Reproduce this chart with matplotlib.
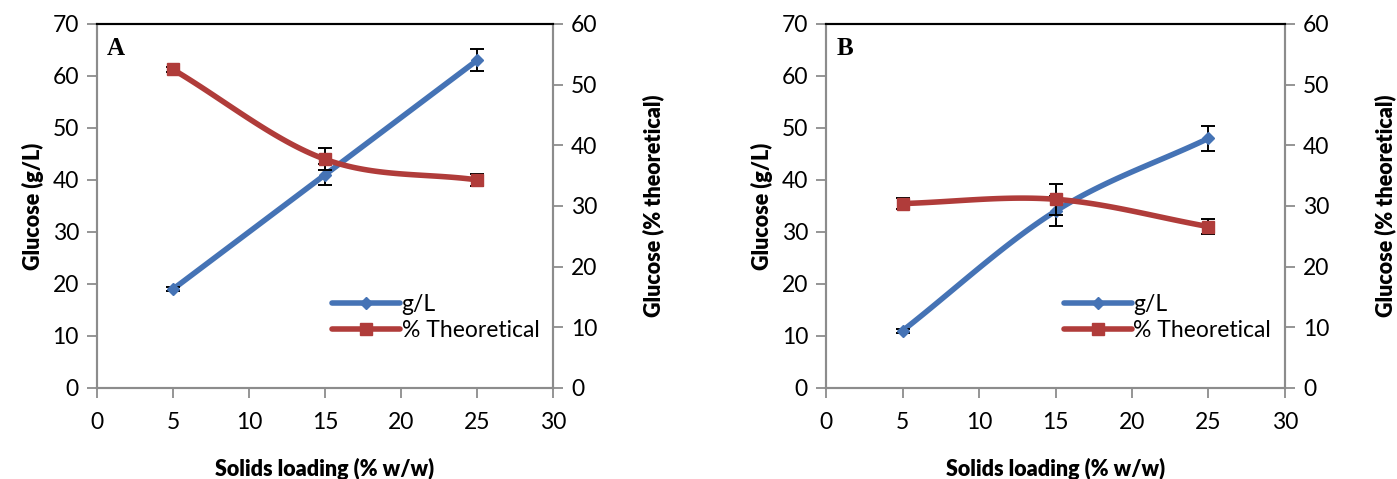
import matplotlib
matplotlib.use("Agg")
import matplotlib.pyplot as plt
import numpy as np

plt.rcParams['font.family'] = ['Lato', 'DejaVu Sans']

loading = [5, 15, 25]

# panel A
gl_a = [19, 41, 63]
gl_a_err = [0.4, 2.0, 2.1]
theo_a = [52.5, 37.7, 34.3]
theo_a_err = [0.4, 1.8, 1.0]

# panel B
gl_b = [11, 34, 48]
gl_b_err = [0.4, 2.9, 2.4]
theo_b = [30.4, 31.1, 26.6]
theo_b_err = [0.9, 2.6, 1.2]

blue = '#4573B5'
red = '#B03C3A'
grey = '#8C8C8C'


def smooth(x, y, n=40):
    # catmull-rom curve through the points, like Excel's smoothed line
    x = np.asarray(x, float)
    y = np.asarray(y, float)
    px = np.concatenate([[2 * x[0] - x[1]], x, [2 * x[-1] - x[-2]]])
    py = np.concatenate([[2 * y[0] - y[1]], y, [2 * y[-1] - y[-2]]])
    xs, ys = [], []
    t = np.linspace(0, 1, n)
    for i in range(1, len(px) - 2):
        for p, out in ((px, xs), (py, ys)):
            p0, p1, p2, p3 = p[i - 1], p[i], p[i + 1], p[i + 2]
            out.extend(0.5 * ((2 * p1) + (-p0 + p2) * t + (2 * p0 - 5 * p1 + 4 * p2 - p3) * t ** 2
                              + (-p0 + 3 * p1 - 3 * p2 + p3) * t ** 3))
    return xs, ys


fig = plt.figure(figsize=(13.97, 4.79), dpi=100)

panels = [
    ('A', [0.0694, 0.19, 0.3265, 0.76], gl_a, gl_a_err, theo_a, theo_a_err),
    ('B', [0.5913, 0.19, 0.3285, 0.76], gl_b, gl_b_err, theo_b, theo_b_err),
]

for letter, rect, gl, gl_err, theo, theo_err in panels:
    ax = fig.add_axes(rect)
    ax2 = ax.twinx()

    sx, sy = smooth(loading, gl)
    ax.plot(sx, sy, color=blue, lw=4, solid_capstyle='round', zorder=3)
    ax.errorbar(loading, gl, yerr=gl_err, fmt='none', ecolor='black', elinewidth=1.4,
                capsize=5, capthick=1.4, zorder=4)
    ax.plot(loading, gl, 'D', color=blue, ms=6, zorder=5)
    ax.plot([], [], color=blue, lw=4, marker='D', ms=6, solid_capstyle='round', label='g/L')

    sx, sy = smooth(loading, theo)
    ax2.plot(sx, sy, color=red, lw=4, solid_capstyle='round', zorder=3)
    ax2.errorbar(loading, theo, yerr=theo_err, fmt='none', ecolor='black', elinewidth=1.4,
                 capsize=5, capthick=1.4, zorder=4)
    ax2.plot(loading, theo, 's', color=red, ms=9, zorder=5)
    ax.plot([], [], color=red, lw=4, marker='s', ms=9, solid_capstyle='round', label='% Theoretical')

    ax.set_xlim(0, 30)
    ax.set_ylim(0, 70)
    ax2.set_ylim(0, 60)
    ax.set_xticks(range(0, 31, 5))
    ax.set_yticks(range(0, 71, 10))
    ax2.set_yticks(range(0, 61, 10))

    for a in (ax, ax2):
        for s in ('left', 'right', 'bottom'):
            a.spines[s].set_color(grey)
            a.spines[s].set_linewidth(1.5)
        a.spines['top'].set_color('black')
        a.spines['top'].set_linewidth(1.5)
        a.tick_params(direction='out', length=7, width=1.3, color=grey, labelsize=16.5, pad=6)
    ax.tick_params(axis='x', pad=10)

    ax.set_xlabel('Solids loading (% w/w)', fontsize=15.5, fontweight='heavy', labelpad=18)
    ax.set_ylabel('Glucose (g/L)', fontsize=15.5, fontweight='heavy', labelpad=6)
    ax2.set_ylabel('Glucose (% theoretical)', fontsize=15.5, fontweight='heavy', labelpad=32)

    ax.text(0.022, 0.965, letter, transform=ax.transAxes, ha='left', va='top',
            fontsize=18, fontweight='bold', family='Liberation Serif')

    ax2.legend(*ax.get_legend_handles_labels(), loc='lower right', frameon=False,
               fontsize=16.5, handlelength=3.0, handletextpad=0.05, labelspacing=0.25,
               bbox_to_anchor=(1.0, 0.09), borderaxespad=0.2)

fig.savefig('out.png', dpi=100)
